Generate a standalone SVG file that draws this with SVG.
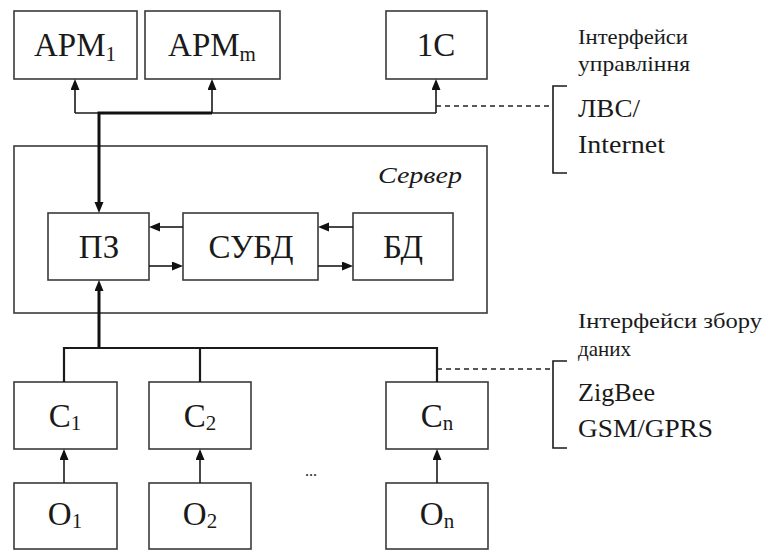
<svg xmlns="http://www.w3.org/2000/svg" width="765" height="551" viewBox="0 0 765 551">
<defs>
<style>
.box{fill:#fff;stroke:#3a3a3a;stroke-width:1.6}
.t{font-family:"Liberation Serif","Times New Roman",serif;fill:#1a1a1a}
.lbl{font-size:33px;text-anchor:middle}
.sub{font-size:21px}
.side{font-size:22px}
.side2{font-size:25px}
.ln{fill:none;stroke:#1a1a1a;stroke-width:1.6}
.thk{fill:none;stroke:#111;stroke-width:3}
.med{fill:none;stroke:#1a1a1a;stroke-width:2.2}
.dash{fill:none;stroke:#222;stroke-width:1.5;stroke-dasharray:5,4}
</style>
<marker id="ah" markerUnits="userSpaceOnUse" markerWidth="12" markerHeight="10" refX="6" refY="4.5" orient="auto">
<path d="M0,0 L11,4.5 L0,9 z" fill="#111"/>
</marker>
</defs>
<rect width="765" height="551" fill="#fff"/>

<g id="server">
<rect class="box" x="14" y="146" width="473" height="167"/>
<text class="t" x="462" y="183" font-size="23" font-style="italic" text-anchor="end" textLength="84" lengthAdjust="spacingAndGlyphs">Сервер</text>
</g>

<g id="arm1"><rect class="box" x="14" y="11" width="123" height="68"/>
<text class="t lbl" x="75" y="56">АРМ<tspan class="sub" dy="5">1</tspan></text></g>
<g id="armm"><rect class="box" x="145" y="11" width="135" height="68"/>
<text class="t lbl" x="212" y="56">АРМ<tspan class="sub" dy="5">m</tspan></text></g>
<g id="c1s"><rect class="box" x="386" y="11" width="101" height="68"/>
<text class="t lbl" x="436" y="56">1С</text></g>

<g id="pz"><rect class="box" x="48" y="213" width="101" height="67"/>
<text class="t lbl" x="99" y="258">ПЗ</text></g>
<g id="subd"><rect class="box" x="183" y="213" width="135" height="67"/>
<text class="t lbl" x="251" y="258">СУБД</text></g>
<g id="bd"><rect class="box" x="353" y="213" width="100" height="67"/>
<text class="t lbl" x="403" y="258">БД</text></g>

<g id="s1"><rect class="box" x="14" y="382" width="103" height="67"/>
<text class="t lbl" x="65" y="427">С<tspan class="sub" dy="3">1</tspan></text></g>
<g id="s2"><rect class="box" x="149" y="382" width="102" height="67"/>
<text class="t lbl" x="200" y="427">С<tspan class="sub" dy="3">2</tspan></text></g>
<g id="sn"><rect class="box" x="386" y="382" width="102" height="67"/>
<text class="t lbl" x="437" y="427">С<tspan class="sub" dy="3">n</tspan></text></g>

<g id="o1"><rect class="box" x="14" y="483" width="103" height="66"/>
<text class="t lbl" x="65" y="525">О<tspan class="sub" dy="3">1</tspan></text></g>
<g id="o2"><rect class="box" x="149" y="483" width="102" height="66"/>
<text class="t lbl" x="200" y="525">О<tspan class="sub" dy="3">2</tspan></text></g>
<g id="on"><rect class="box" x="386" y="483" width="102" height="66"/>
<text class="t lbl" x="437" y="525">О<tspan class="sub" dy="3">n</tspan></text></g>

<g id="dots"><text class="t" x="311" y="476" font-size="16" text-anchor="middle">...</text></g>

<g id="labels">
<text class="t side" x="578" y="44" textLength="110" lengthAdjust="spacingAndGlyphs">Інтерфейси</text>
<text class="t side" x="578" y="71" textLength="112" lengthAdjust="spacingAndGlyphs">управління</text>
<text class="t side2" x="578" y="117" textLength="62" lengthAdjust="spacingAndGlyphs">ЛВС/</text>
<text class="t side2" x="578" y="153" textLength="87" lengthAdjust="spacingAndGlyphs">Internet</text>
<text class="t side" x="578" y="328" textLength="184" lengthAdjust="spacingAndGlyphs">Інтерфейси збору</text>
<text class="t side" x="578" y="356" textLength="53" lengthAdjust="spacingAndGlyphs">даних</text>
<text class="t side2" x="578" y="401" textLength="77" lengthAdjust="spacingAndGlyphs">ZigBee</text>
<text class="t side2" x="578" y="437" textLength="135" lengthAdjust="spacingAndGlyphs">GSM/GPRS</text>
</g>

<g id="connectors">
<path class="ln" d="M75,113 H436"/>
<path class="ln" d="M75,113 V84" marker-end="url(#ah)"/>
<path class="ln" d="M212,113 V84" marker-end="url(#ah)"/>
<path class="ln" d="M436,113 V84" marker-end="url(#ah)"/>
<path class="thk" d="M212,113 H99 V208" marker-end="url(#ah)"/>
<path class="dash" d="M436,106 H553"/>
<path class="ln" d="M567,86 H553 V173 H567"/>

<path class="ln" d="M183,227 H154" marker-end="url(#ah)"/>
<path class="ln" d="M149,266 H178" marker-end="url(#ah)"/>
<path class="ln" d="M353,227 H323" marker-end="url(#ah)"/>
<path class="ln" d="M318,266 H348" marker-end="url(#ah)"/>

<path class="thk" d="M99,348 V285" marker-end="url(#ah)"/>
<path class="med" d="M64,382 V348 H437 V382"/>
<path class="med" d="M200,348 V382"/>
<path class="ln" d="M64,483 V454" marker-end="url(#ah)"/>
<path class="ln" d="M200,483 V454" marker-end="url(#ah)"/>
<path class="ln" d="M437,483 V454" marker-end="url(#ah)"/>
<path class="dash" d="M437,369 H553"/>
<path class="ln" d="M567,361 H553 V448 H567"/>
</g>
</svg>
